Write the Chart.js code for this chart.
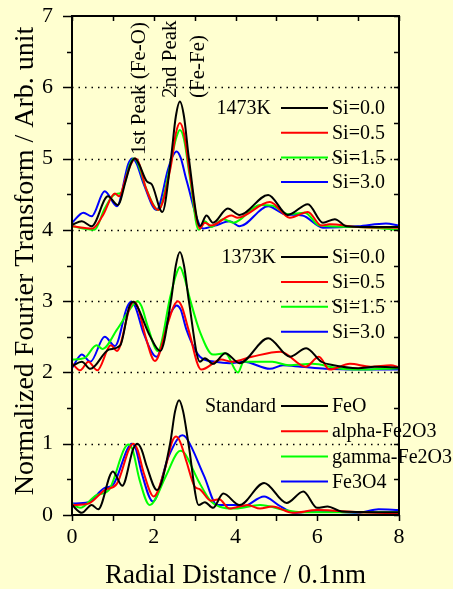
<!DOCTYPE html>
<html><head><meta charset="utf-8">
<script src="https://cdn.jsdelivr.net/npm/chart.js@4/dist/chart.umd.min.js"></script>
<style>html,body{margin:0;padding:0;background:#ffffd0;}canvas{display:block;}</style>
</head><body><canvas id="c" width="453" height="589"></canvas>
<script>
// ---- DATA (radial distance r, transform value) ----
const r1473_00 = [0,0.24,0.48,0.88,1.12,1.32,1.44,1.54,1.64,1.83,1.95,2.21,2.42,2.54,2.64,2.74,2.86,3.13,3.29,3.45,3.81,4.1,4.8,5.28,5.77,6.14,6.43,6.72,7.2,8];
const v1473_00 = [4.07,4.12,4.05,4.47,4.35,4.7,4.93,5.0,4.92,4.68,4.64,4.25,5.0,5.59,5.8,5.59,5.0,4.05,4.2,4.1,4.3,4.21,4.49,4.21,4.36,4.1,4.15,4.05,4.04,4.04];
const r1473_05 = [0,0.5,0.75,1.05,1.15,1.33,1.45,1.55,1.65,1.8,2.11,2.42,2.54,2.64,2.74,2.88,3.13,3.25,3.4,3.9,4.05,4.84,5.33,5.77,6.1,6.3,7,8];
const v1473_05 = [4.05,4.02,4.2,4.51,4.47,4.75,4.93,5.0,4.92,4.6,4.28,4.9,5.35,5.5,5.35,4.8,4.02,4.1,4.06,4.2,4.17,4.39,4.17,4.25,4.06,4.08,4.04,4.03];
const r1473_15 = [0,0.55,0.8,1.05,1.2,1.42,1.52,1.62,1.8,2.11,2.42,2.54,2.64,2.74,2.88,3.1,3.25,3.4,3.7,3.95,4.6,4.9,5.28,5.7,6.05,7,8];
const v1473_15 = [4.05,4.0,4.3,4.5,4.52,4.93,5.0,4.92,4.6,4.28,4.95,5.27,5.4,5.27,4.75,4.0,4.12,4.04,4.15,4.1,4.35,4.34,4.22,4.24,4.06,4.04,4.0];
const r1473_30 = [0,0.28,0.48,0.8,1.1,1.38,1.48,1.58,1.75,2.07,2.35,2.46,2.56,2.66,2.8,3.2,3.5,3.86,4.1,4.8,5.2,5.64,6.14,7.0,7.68,8];
const v1473_30 = [4.1,4.24,4.19,4.54,4.33,4.93,5.0,4.93,4.65,4.28,4.85,5.03,5.1,5.01,4.7,4.02,4.06,4.12,4.05,4.33,4.22,4.2,4.03,4.05,4.09,4.06];

const r1373_00 = [0,0.24,0.45,0.9,1.18,1.4,1.5,1.6,1.9,2.16,2.42,2.54,2.64,2.74,2.86,3.13,3.25,3.45,3.75,4.1,4.8,5.33,5.73,6.1,6.4,7.0,7.4,8];
const v1373_00 = [2.09,2.15,2.05,2.32,2.38,2.92,2.99,2.92,2.52,2.3,3.0,3.5,3.69,3.5,3.0,2.15,2.2,2.12,2.27,2.13,2.48,2.22,2.34,2.15,2.1,2.06,2.08,2.07];
const r1373_05 = [0,0.2,0.4,0.62,0.95,1.1,1.42,1.52,1.62,1.8,2.03,2.35,2.49,2.59,2.69,2.85,3.16,3.65,3.9,4.4,5.1,5.72,6.04,6.3,6.8,7.3,7.8,8];
const v1373_05 = [2.13,2.03,2.15,2.03,2.38,2.3,2.92,2.99,2.9,2.5,2.16,2.7,2.93,3.0,2.92,2.6,2.04,2.18,2.15,2.22,2.29,2.08,2.22,2.04,2.12,2.08,2.1,2.07];
const r1373_15 = [0,0.3,0.6,0.75,1.1,1.5,1.6,1.7,1.85,2.1,2.4,2.54,2.64,2.74,2.9,3.13,3.45,3.75,4.06,4.2,4.9,5.3,5.88,6.5,7.0,8];
const v1373_15 = [2.18,2.2,2.38,2.33,2.6,2.95,3.0,2.93,2.65,2.3,3.05,3.36,3.48,3.35,3.0,2.57,2.25,2.27,2.0,2.15,2.15,2.1,2.12,2.06,2.04,2.06];
const r1373_30 = [0,0.24,0.45,0.8,1.05,1.35,1.45,1.55,1.75,2.07,2.35,2.46,2.56,2.66,2.8,3.13,3.5,3.86,4.2,4.84,5.16,5.6,6.2,7,8];
const v1373_30 = [2.06,2.25,2.15,2.5,2.37,2.92,2.99,2.92,2.55,2.22,2.75,2.88,2.94,2.88,2.6,2.22,2.15,2.13,2.15,2.05,2.1,2.08,2.05,2.04,2.04];

const rFeO = [0,0.24,0.48,0.64,1.0,1.23,1.5,1.6,1.7,1.83,2.08,2.4,2.52,2.62,2.72,2.85,3.1,3.25,3.45,3.7,4.1,4.7,5.25,5.66,6.0,6.25,6.6,8];
const vFeO = [0.14,0.03,0.14,0.08,0.61,0.41,0.93,1.0,0.92,0.68,0.35,1.0,1.45,1.61,1.45,1.0,0.14,0.18,0.1,0.3,0.14,0.45,0.17,0.33,0.1,0.12,0.05,0.04];
const rAlpha = [0,0.4,0.8,1.1,1.4,1.5,1.6,1.75,2.0,2.3,2.45,2.55,2.65,2.8,3.0,3.13,3.4,3.6,3.85,4.3,4.6,4.9,5.4,6.0,7,8];
const vAlpha = [0.14,0.16,0.35,0.44,0.93,1.0,0.92,0.6,0.26,0.7,1.03,1.1,1.02,0.75,0.4,0.36,0.2,0.22,0.09,0.14,0.09,0.12,0.03,0.07,0.04,0.02];
const rGamma = [0,0.2,0.6,0.9,1.28,1.38,1.48,1.65,1.9,2.3,2.56,2.66,2.76,3.1,3.4,3.6,4.0,4.6,5.2,5.6,8];
const vGamma = [0.16,0.1,0.28,0.35,0.93,0.99,0.92,0.5,0.14,0.55,0.86,0.9,0.86,0.47,0.19,0.12,0.09,0.14,0.07,0.04,0.04];
const rFe3O4 = [0,0.4,0.8,1.0,1.36,1.46,1.56,1.7,1.98,2.35,2.6,2.7,2.8,3.23,3.55,4.0,4.15,4.7,5.05,5.45,6.0,7.0,7.5,8];
const vFe3O4 = [0.16,0.18,0.38,0.42,0.93,1.0,0.93,0.6,0.19,0.8,1.08,1.12,1.08,0.55,0.14,0.14,0.11,0.26,0.14,0.03,0.06,0.03,0.08,0.07];

const xTicks = [0,2,4,6,8];
const yTicks = [0,1,2,3,4,5,6,7];
const gridLevels = [1,2,3,4,5,6];
const groupTitles = ['1473K','1373K','Standard'];
const groupLabels = [['Si=0.0','Si=0.5','Si=1.5','Si=3.0'],['Si=0.0','Si=0.5','Si=1.5','Si=3.0'],['FeO','alpha-Fe2O3','gamma-Fe2O3','Fe3O4']];
const colors = ['#000000','#ff0000','#00ff00','#0000ff'];

const seriesDefs = [
  [r1473_00,v1473_00,0],[r1473_05,v1473_05,1],[r1473_15,v1473_15,2],[r1473_30,v1473_30,3],
  [r1373_00,v1373_00,0],[r1373_05,v1373_05,1],[r1373_15,v1373_15,2],[r1373_30,v1373_30,3],
  [rFeO,vFeO,0],[rAlpha,vAlpha,1],[rGamma,vGamma,2],[rFe3O4,vFe3O4,3]
];
const datasets = seriesDefs.map((s,i)=>({
  label: groupLabels[Math.floor(i/4)][i%4],
  data: s[0].map((x,j)=>({x:x,y:s[1][j]})),
  borderColor: colors[s[2]], borderWidth: 2, pointRadius: 0, fill:false,
  cubicInterpolationMode:'monotone'
}));

const SERIF = "'Liberation Serif','DejaVu Serif',serif";

const deco = {
  id:'deco',
  beforeDatasetsDraw(chart){
    const c = chart.ctx, xs = chart.scales.x, ys = chart.scales.y, a = chart.chartArea;
    c.save();
    c.strokeStyle='#000'; c.lineWidth=1.5; c.setLineDash([1.5,5]);
    gridLevels.forEach(v=>{const y=Math.round(ys.getPixelForValue(v))+0.5; c.beginPath(); c.moveTo(a.left,y); c.lineTo(a.right,y); c.stroke();});
    c.restore();
  },
  afterDraw(chart){
    const c = chart.ctx, xs = chart.scales.x, ys = chart.scales.y, a = chart.chartArea;
    c.save();
    c.strokeStyle='#000'; c.lineWidth=2; c.setLineDash([]);
    c.strokeRect(a.left, a.top, a.right-a.left, a.bottom-a.top);
    c.lineWidth=1.5;
    c.beginPath();
    for(let v=0; v<=7.001; v+=0.5){
      const y = Math.round(ys.getPixelForValue(v))+0.5;
      const major = Math.abs(v-Math.round(v))<1e-6;
      c.moveTo(a.left - (major?9:5), y); c.lineTo(a.left, y);
      c.moveTo(a.right - 5, y); c.lineTo(a.right, y);
    }
    for(let v=0; v<=8; v+=1){
      const x = Math.round(xs.getPixelForValue(v))+0.5;
      c.moveTo(x, a.bottom); c.lineTo(x, a.bottom+6);
      c.moveTo(x, a.top); c.lineTo(x, a.top+5);
    }
    c.stroke();
    // legends
    const rowsTop = [108,257,406];
    const gap = [24.7,24.9,25.2];
    const titleRight = [271,276,276];
    c.font = "20px "+SERIF; c.textBaseline='middle'; c.fillStyle='#000';
    for(let g=0; g<3; g++){
      c.textAlign='right';
      c.fillText(groupTitles[g], titleRight[g], rowsTop[g]+1);
      for(let k=0;k<4;k++){
        const y = rowsTop[g]+k*gap[g];
        c.strokeStyle=colors[k]; c.lineWidth=2;
        c.beginPath(); c.moveTo(281,y); c.lineTo(328,y); c.stroke();
        c.textAlign='left'; c.fillStyle='#000';
        c.fillText(groupLabels[g][k], 332, y+1);
      }
    }
    // peak annotations (rotated)
    c.font = "21px "+SERIF; c.textAlign='left'; c.textBaseline='middle';
    const ann = [['1st Peak (Fe-O)',139,155],['2nd Peak',170,98],['(Fe-Fe)',198,98]];
    ann.forEach(t=>{c.save(); c.translate(t[1],t[2]); c.rotate(-Math.PI/2); c.fillText(t[0],0,0); c.restore();});
    // axis titles
    c.font = "27px "+SERIF; c.textAlign='center'; c.textBaseline='middle';
    c.fillText('Radial Distance / 0.1nm', (a.left+a.right)/2, 576);
    c.font = "28px "+SERIF;
    c.save(); c.translate(26, 261); c.rotate(-Math.PI/2);
    c.fillText('Normalized Fourier Transform / Arb. unit', 0, 0); c.restore();
    c.restore();
  }
};

new Chart(document.getElementById('c'), {
  type:'line',
  data:{datasets},
  options:{
    responsive:false, animation:false, devicePixelRatio:1,
    layout:{padding:{top:16,right:54,left:0,bottom:0}},
    plugins:{legend:{display:false}, tooltip:{enabled:false}},
    scales:{
      x:{type:'linear', min:0, max:8,
        afterBuildTicks:(s)=>{s.ticks = xTicks.map(v=>({value:v}));},
        ticks:{autoSkip:false, maxRotation:0, color:'#000', padding:0, font:{family:SERIF,size:22}},
        grid:{display:true, drawOnChartArea:false, drawTicks:true, tickLength:9, tickColor:'rgba(0,0,0,0)', color:'rgba(0,0,0,0)'}, border:{display:false},
        afterFit:(s)=>{s.height=74;}},
      y:{type:'linear', min:0, max:7,
        afterBuildTicks:(s)=>{s.ticks = yTicks.map(v=>({value:v}));},
        ticks:{autoSkip:false, color:'#000', padding:0, font:{family:SERIF,size:22}},
        grid:{display:true, drawOnChartArea:false, drawTicks:true, tickLength:19, tickColor:'rgba(0,0,0,0)', color:'rgba(0,0,0,0)'}, border:{display:false},
        afterFit:(s)=>{s.width=72;}}
    }
  },
  plugins:[deco]
});
</script></body></html>
